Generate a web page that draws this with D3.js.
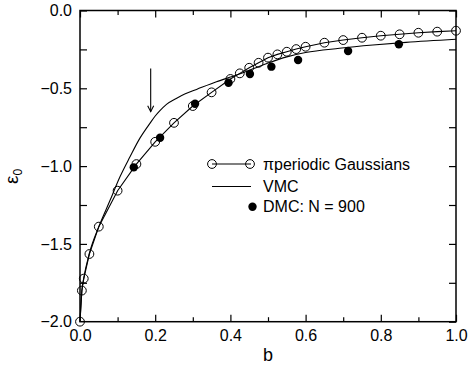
<!DOCTYPE html>
<html><head><meta charset="utf-8">
<script src="https://cdn.jsdelivr.net/npm/d3@7"></script>
<style>
body{margin:0;background:#fff}
svg{display:block}
text{font-family:"Liberation Sans",Arial,Helvetica,sans-serif;fill:#000}
</style>
</head><body>
<svg id="chart" width="471" height="366"></svg>
<script>
// π-periodic Gaussians (open circles, connected)
const gaussB = [0, 0.005, 0.01, 0.025, 0.05, 0.1, 0.15, 0.2, 0.25, 0.3, 0.35, 0.4, 0.425, 0.45, 0.475, 0.5, 0.525, 0.55, 0.575, 0.6, 0.65, 0.7, 0.75, 0.8, 0.85, 0.9, 0.95, 1.0];
const gaussE = [-2.0, -1.80, -1.723, -1.565, -1.389, -1.158, -0.987, -0.844, -0.722, -0.614, -0.526, -0.44, -0.404, -0.368, -0.336, -0.303, -0.282, -0.265, -0.248, -0.233, -0.207, -0.19, -0.175, -0.162, -0.153, -0.143, -0.136, -0.13];
// VMC (solid line)
const vmcB = [0, 0.005, 0.01, 0.025, 0.05, 0.08, 0.106, 0.133, 0.159, 0.186, 0.2, 0.212, 0.23, 0.256, 0.28, 0.31, 0.363, 0.416, 0.46, 0.5, 0.55, 0.6, 0.69, 0.779, 0.867, 1.0];
const vmcE = [-2.0, -1.80, -1.72, -1.56, -1.39, -1.22, -1.07, -0.94, -0.822, -0.725, -0.678, -0.645, -0.603, -0.565, -0.535, -0.507, -0.458, -0.415, -0.375, -0.338, -0.298, -0.27, -0.243, -0.222, -0.205, -0.185];
// DMC: N = 900 (filled circles)
const dmcB = [0.143, 0.213, 0.306, 0.395, 0.452, 0.509, 0.58, 0.713, 0.848];
const dmcE = [-1.008, -0.818, -0.599, -0.464, -0.408, -0.361, -0.318, -0.26, -0.217];

const xMajor = [0, 0.2, 0.4, 0.6, 0.8, 1.0];
const xMinor = [0.1, 0.3, 0.5, 0.7, 0.9];
const yMajor = [-2.0, -1.5, -1.0, -0.5, 0.0];
const yMinor = [-1.75, -1.25, -0.75, -0.25];
const legendLabels = ["\u03C0periodic Gaussians", "VMC", "DMC: N = 900"];
const arrowB = 0.188, arrowTopE = -0.372, arrowTipE = -0.65;

const svg = d3.select("#chart");
const x = d3.scaleLinear().domain([0, 1]).range([80, 456]);
const y = d3.scaleLinear().domain([-2, 0]).range([321.7, 10.5]);
const X0 = x(0), X1 = x(1), Y0 = y(-2), Y1 = y(0);

// axes (ticks inward)
const fmt = d3.format(".1f");
const gB = svg.append("g").attr("transform", `translate(0,${Y0})`)
  .call(d3.axisBottom(x).tickValues(xMajor).tickFormat(fmt).tickSizeInner(-7).tickSizeOuter(0).tickPadding(7.6));
const gBm = svg.append("g").attr("transform", `translate(0,${Y0})`)
  .call(d3.axisBottom(x).tickValues(xMinor).tickFormat("").tickSizeInner(-4.5).tickSizeOuter(0));
const gT = svg.append("g").attr("transform", `translate(0,${Y1})`)
  .call(d3.axisTop(x).tickValues(xMajor).tickFormat("").tickSizeInner(-7).tickSizeOuter(0));
const gTm = svg.append("g").attr("transform", `translate(0,${Y1})`)
  .call(d3.axisTop(x).tickValues(xMinor).tickFormat("").tickSizeInner(-4.5).tickSizeOuter(0));
const gL = svg.append("g").attr("transform", `translate(${X0},0)`)
  .call(d3.axisLeft(y).tickValues(yMajor.concat(yMinor)).tickFormat(d => yMajor.includes(d) ? fmt(d) : "").tickSizeInner(-7).tickSizeOuter(0).tickPadding(8));
const gR = svg.append("g").attr("transform", `translate(${X1},0)`)
  .call(d3.axisRight(y).tickValues(yMajor.concat(yMinor)).tickFormat("").tickSizeInner(-7).tickSizeOuter(0));
[gB, gBm, gT, gTm, gL, gR].forEach(g => {
  g.select(".domain").remove();
  g.selectAll(".tick line").attr("stroke", "#000").attr("stroke-width", 1.2);
  g.selectAll(".tick text").attr("font-size", 16).attr("font-family", "Liberation Sans, Arial, sans-serif").attr("fill", "#000");
});
gL.selectAll(".tick").filter(d => d === -2).select("line").remove();
gB.selectAll(".tick").filter(d => d === 0).select("line").remove();

// frame
svg.append("rect").attr("x", X0).attr("y", Y1).attr("width", X1 - X0).attr("height", Y0 - Y1)
  .attr("fill", "none").attr("stroke", "#000").attr("stroke-width", 1.5);

// axis labels
svg.append("text").attr("x", (X0 + X1) / 2).attr("y", 361).attr("text-anchor", "middle").attr("font-size", 18).text("b");
const yl = svg.append("text").attr("transform", "translate(18,184) rotate(-90)").attr("font-size", 19);
yl.append("tspan").text("\u03B5");
yl.append("tspan").attr("font-size", 12).attr("dy", 4).text("0");

// lines
const line = d3.line().x(d => x(d[0])).y(d => y(d[1]));
svg.append("path").datum(vmcB.map((b, i) => [b, vmcE[i]]))
  .attr("d", line.curve(d3.curveMonotoneX)).attr("fill", "none").attr("stroke", "#000").attr("stroke-width", 1.1);
svg.append("path").datum(gaussB.map((b, i) => [b, gaussE[i]]))
  .attr("d", d3.line().x(d => x(d[0])).y(d => y(d[1]))).attr("fill", "none").attr("stroke", "#000").attr("stroke-width", 1.1);

// markers
svg.append("g").selectAll("circle").data(gaussB.map((b, i) => [b, gaussE[i]])).join("circle")
  .attr("cx", d => x(d[0])).attr("cy", d => y(d[1])).attr("r", 4.4)
  .attr("fill", "none").attr("stroke", "#000").attr("stroke-width", 1);
svg.append("g").selectAll("circle").data(dmcB.map((b, i) => [b, dmcE[i]])).join("circle")
  .attr("cx", d => x(d[0])).attr("cy", d => y(d[1])).attr("r", 4.2)
  .attr("fill", "#000").attr("stroke", "none");

// arrow
const ax = x(arrowB), aTop = y(arrowTopE), aTip = y(arrowTipE);
svg.append("line").attr("x1", ax).attr("x2", ax).attr("y1", aTop).attr("y2", aTip)
  .attr("stroke", "#000").attr("stroke-width", 1.1);
svg.append("path").attr("d", `M${ax - 3},${aTip - 6}L${ax},${aTip}L${ax + 3},${aTip - 6}`)
  .attr("fill", "none").attr("stroke", "#000").attr("stroke-width", 1.1);

// legend
const lg = svg.append("g");
const rows = [164, 186.5, 206.7];
lg.append("line").attr("x1", 212).attr("x2", 251).attr("y1", rows[0]).attr("y2", rows[0]).attr("stroke", "#000").attr("stroke-width", 1.1);
[212, 250].forEach(cx => lg.append("circle").attr("cx", cx).attr("cy", rows[0]).attr("r", 4.4).attr("fill", "none").attr("stroke", "#000").attr("stroke-width", 1));
lg.append("line").attr("x1", 212).attr("x2", 251).attr("y1", rows[1]).attr("y2", rows[1]).attr("stroke", "#000").attr("stroke-width", 1.1);
lg.append("circle").attr("cx", 252.5).attr("cy", rows[2]).attr("r", 4.2).attr("fill", "#000");
legendLabels.forEach((t, i) => {
  lg.append("text").attr("x", 263).attr("y", rows[i]).attr("dy", "0.36em").attr("font-size", 16).text(t);
});
</script>
</body></html>
